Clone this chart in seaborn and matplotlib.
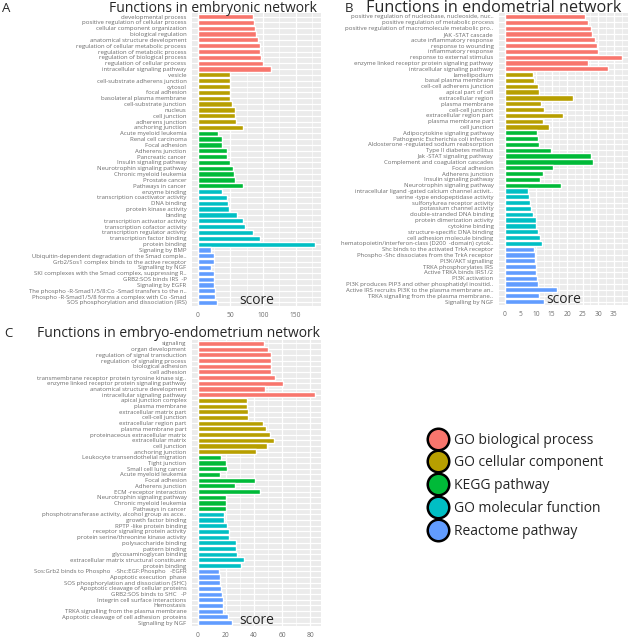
import pandas as pd
import matplotlib.pyplot as plt
from matplotlib.lines import Line2D
from matplotlib.ticker import MultipleLocator
import seaborn as sns

sources = ["GO biological process", "GO cellular component", "KEGG pathway",
           "GO molecular function", "Reactome pathway"]
colors = ["#F8766D", "#B79F00", "#00BA38", "#00BFC4", "#619CFF"]

# panel A - embryonic network (top to bottom, 10 terms per source)
a_terms = [
    "developmental process", "positive regulation of cellular process", "cellular component organization",
    "biological regulation", "anatomical structure development", "regulation of cellular metabolic process",
    "regulation of metabolic process", "regulation of biological process", "regulation of cellular process",
    "intracellular signaling pathway",
    "vesicle", "cell-substrate adherens junction", "cytosol", "focal adhesion", "basolateral plasma membrane",
    "cell-substrate junction", "nucleus", "cell junction", "adherens junction", "anchoring junction",
    "Acute myeloid leukemia", "Renal cell carcinoma", "Focal adhesion", "Adherens junction",
    "Pancreatic cancer", "Insulin signaling pathway", "Neurotrophin signaling pathway",
    "Chronic myeloid leukemia", "Prostate cancer", "Pathways in cancer",
    "enzyme binding", "transcription coactivator activity", "DNA binding", "protein kinase activity",
    "binding", "transcription activator activity", "transcription cofactor activity",
    "transcription regulator activity", "transcription factor binding", "protein binding",
    "Signaling by BMP", "Ubiquitin-dependent degradation of the Smad comple..",
    "Grb2/Sos1 complex binds to the active receptor", "Signalling by NGF",
    "SKI complexes with the Smad complex, suppressing R..", "GRB2:SOS binds IRS  -P",
    "Signaling by EGFR", "The phospho -R-Smad1/5/8:Co -Smad transfers to the n..",
    "Phospho -R-Smad1/5/8 forms a complex with Co -Smad", "SOS phosphorylation and dissociation (IRS)",
]
a_scores = [84, 86, 88, 89, 93, 95, 96, 97, 100, 113,
            49, 49, 49, 49, 49, 52, 57, 57.5, 59, 70,
            31, 37, 37, 44, 44, 50, 54, 56, 57, 69,
            37, 44, 47, 48, 60, 69, 72, 84, 96, 180,
            20.5, 24, 24, 20.5, 25, 25, 25, 26, 27, 30]

# panel B - endometrial network
b_terms = [
    "positive regulation of nucleobase, nucleoside, nuc..", "positive regulation of metabolic process",
    "positive regulation of macromolecule metabolic pro..", "JAK -STAT cascade", "acute inflammatory response",
    "response to wounding", "inflammatory response", "response to external stimulus",
    "enzyme linked receptor protein signaling pathway", "intracellular signaling pathway",
    "lamellipodium", "basal plasma membrane", "cell-cell adherens junction", "apical part of cell",
    "extracellular region", "plasma membrane", "cell-cell junction", "extracellular region part",
    "plasma membrane part", "cell junction",
    "Adipocytokine signaling pathway", "Pathogenic Escherichia coli infection",
    "Aldosterone -regulated sodium reabsorption", "Type II diabetes mellitus", "Jak -STAT signaling pathway",
    "Complement and coagulation cascades", "Focal adhesion", "Adherens junction",
    "Insulin signaling pathway", "Neurotrophin signaling pathway",
    "intracellular ligand -gated calcium channel activit..", "serine -type endopeptidase activity",
    "sulfonylurea receptor activity", "potassium channel activity", "double-stranded DNA binding",
    "protein dimerization activity", "cytokine binding", "structure-specific DNA binding",
    "cell adhesion molecule binding", "hematopoietin/interferon-class (D200  -domain) cytok..",
    "Shc binds to the activated TrkA receptor", "Phospho -Shc dissociates from the TrkA receptor",
    "PI3K/AKT signalling", "TRKA phosphorylates IRS", "Active TRKA binds IRS1/2", "PI3K activation",
    "PI3K produces PIP3 and other phosphatidyl inositid..",
    "Active IRS recruits PI3K to the plasma membrane an..", "TRKA signalling from the plasma membrane..",
    "Signalling by NGF",
]
b_scores = [25.7, 26.8, 27.7, 27.9, 28.9, 29.5, 30, 37.7, 26.6, 33,
            9, 9.4, 10.8, 11.1, 22, 11.5, 12.6, 18.6, 12.4, 14.1,
            10.4, 10.7, 11, 14.7, 27.6, 28.3, 15.4, 12.4, 11.3, 18,
            7.3, 7.7, 8.1, 8.5, 9.2, 9.9, 10, 10.5, 11.3, 11.9,
            9.5, 9.7, 9.8, 10, 10, 10.3, 10.6, 16.9, 11, 12.6]

# panel C - embryo-endometrium network
c_terms = [
    "signaling", "organ development", "regulation of signal transduction", "regulation of signaling process",
    "biological adhesion", "cell adhesion", "transmembrane receptor protein tyrosine kinase sig..",
    "enzyme linked receptor protein signaling pathway", "anatomical structure development",
    "intracellular signaling pathway",
    "apical junction complex", "plasma membrane", "extracellular matrix part", "cell-cell junction",
    "extracellular region part", "plasma membrane part", "proteinaceous extracellular matrix",
    "extracellular matrix", "cell junction", "anchoring junction",
    "Leukocyte transendothelial migration", "Tight junction", "Small cell lung cancer",
    "Acute myeloid leukemia", "Focal adhesion", "Adherens junction", "ECM -receptor interaction",
    "Neurotrophin signaling pathway", "Chronic myeloid leukemia", "Pathways in cancer",
    "phosphotransferase activity, alcohol group as acce..", "growth factor binding",
    "RPTP -like protein binding", "receptor signaling protein activity",
    "protein serine/threonine kinase activity", "polysaccharide binding", "pattern binding",
    "glycosaminoglycan binding", "extracellular matrix structural constituent", "protein binding",
    "Sos:Grb2 binds to Phospho   -Shc:EGF:Phospho   -EGFR", "Apoptotic execution  phase",
    "SOS phosphorylation and dissociation (SHC)", "Apoptotic cleavage of cellular proteins",
    "GRB2:SOS binds to SHC   -P", "Integrin cell surface interactions", "Hemostasis",
    "TRKA signalling from the plasma membrane", "Apoptotic cleavage of cell adhesion  proteins",
    "Signalling by NGF",
]
c_scores = [47.4, 50.2, 51.9, 51.9, 51.9, 51.9, 55.2, 60.5, 47.9, 83.6,
            35.2, 35.2, 35.9, 35.9, 46.4, 48.3, 51.4, 54.3, 49, 41.4,
            16.2, 20, 21, 15.7, 40.7, 26.7, 44.3, 20, 20, 20,
            18.6, 18.6, 20.5, 22.4, 22.4, 27.1, 27.1, 28.1, 33.1, 30.7,
            15, 15.7, 15.9, 16.2, 17.4, 18.1, 18.1, 18.1, 21.2, 24.5]

W, H = 628, 639


def make_df(terms, scores):
    src = [s for s in sources for _ in range(10)]
    return pd.DataFrame({"term": terms, "score": scores, "source": src})


def draw_panel(fig, rect, df, major, minor, title, title_size, letter, title_x, letter_x, title_y):
    l, t, r, b = rect
    ax = fig.add_axes([l / W, 1 - b / H, (r - l) / W, (b - t) / H])
    sns.barplot(data=df, y="term", x="score", hue="source", order=list(df["term"]),
                hue_order=sources, palette=dict(zip(sources, colors)), dodge=False,
                width=0.9, saturation=1, legend=False, ax=ax)
    mx = df["score"].max()
    ax.set_xlim(-0.05 * mx, 1.05 * mx)
    ax.set_ylim(len(df) - 0.4, -0.6)
    ax.xaxis.set_major_locator(MultipleLocator(major))
    ax.xaxis.set_minor_locator(MultipleLocator(minor))
    ax.grid(True, which="major", color="white", linewidth=0.9)
    ax.grid(True, which="minor", axis="x", color="white", linewidth=0.45)
    ax.set_axisbelow(True)
    ax.set_xlabel("")
    ax.set_ylabel("")
    for s in ax.spines.values():
        s.set_visible(False)
    ax.tick_params(axis="y", length=2, width=0.6, color="#7a7a7a", pad=2,
                   labelsize=4.35, labelcolor="#6a6a6a")
    ax.tick_params(axis="x", which="major", length=2.5, width=0.6, color="#7a7a7a",
                   pad=1.5, labelsize=4.8, labelcolor="#6e6e6e")
    ax.tick_params(axis="x", which="minor", length=0)
    fig.text(title_x / W, 1 - title_y / H, title, fontsize=title_size, ha="center", va="baseline")
    fig.text(letter_x / W, 1 - title_y / H, letter, fontsize=9.5, ha="left", va="baseline")
    fig.text((l + r) / 2 / W, 1 - (b - 2) / H, "score", fontsize=10,
             ha="center", va="baseline")
    return ax


def main():
    sns.set_theme(style="darkgrid", rc={"axes.facecolor": "#EBEBEB"})
    plt.rcParams["font.family"] = ["Open Sans", "DejaVu Sans"]

    fig = plt.figure(figsize=(W / 100, H / 100), dpi=100)
    fig.patch.set_facecolor("white")

    draw_panel(fig, (192, 13, 321, 306), make_df(a_terms, a_scores), 50, 25,
               "Functions in embryonic network", 10, "A", 213, 2, 11.5)
    draw_panel(fig, (499, 13, 628, 305), make_df(b_terms, b_scores), 5, 2.5,
               "Functions in endometrial network", 11.7, "B", 494, 345, 11.5)
    draw_panel(fig, (192, 340, 321, 626), make_df(c_terms, c_scores), 20, 10,
               "Functions in embryo-endometrium network", 10, "C", 178, 4, 337)

    handles = [Line2D([], [], linestyle="none", marker="o", markersize=15.5,
                      markerfacecolor=c, markeredgecolor="black", markeredgewidth=1.8)
               for c in colors]
    fig.legend(handles, sources, loc="upper left", bbox_to_anchor=(424 / W, 1 - 427 / H),
               frameon=False, fontsize=10, labelspacing=0.56, handletextpad=0.55,
               handlelength=1.2, borderaxespad=0)

    fig.savefig("out.png", dpi=100)


if __name__ == "__main__":
    main()
